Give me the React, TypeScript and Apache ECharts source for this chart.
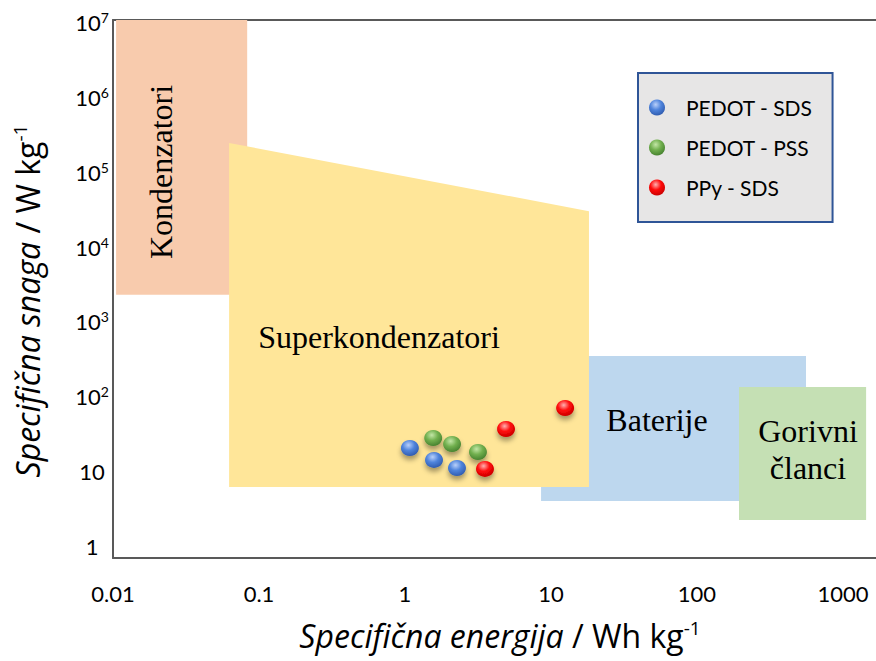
import React, { useEffect, useRef } from 'react';
import * as echarts from 'echarts';

// Axis ranges (real values, log10 scale)
const energyMin = 0.01;
const energyMax = 1683;
const powerMin = 0.713;
const powerMax = 1.064e7;

// Tick labels
const energyTicks = [0.01, 0.1, 1, 10, 100, 1000];
const energyTickLabels = ['0.01', '0.1', '1', '10', '100', '1000'];
const powerTicks = [1, 10, 1e2, 1e3, 1e4, 1e5, 1e6, 1e7];
const powerTickBase = ['1', '10', '10', '10', '10', '10', '10', '10'];
const powerTickExp = ['', '', '2', '3', '4', '5', '6', '7'];

// Series (energy Wh/kg, power W/kg)
const seriesNames = ['PEDOT - SDS', 'PEDOT - PSS', 'PPy - SDS'];
const pedotSdsEnergy = [1.08, 1.58, 2.27];
const pedotSdsPower = [20.9, 14.5, 11.3];
const pedotPssEnergy = [1.56, 2.1, 3.16];
const pedotPssPower = [28.4, 23.6, 18.5];
const ppySdsEnergy = [4.92, 3.53, 12.5];
const ppySdsPower = [37.4, 11.0, 71.3];

// Regions (vertices: [energy, power])
const regionNames = ['Kondenzatori', 'Baterije', 'Gorivni članci', 'Superkondenzatori'];
const kondenzatoriRegion = [[0.0105, 1.06e7], [0.083, 1.06e7], [0.083, 2300], [0.0105, 2300]];
const baterijeRegion = [[8.55, 352], [558, 352], [558, 4.1], [8.55, 4.1]];
const gorivniRegion = [[194, 136], [1440, 136], [1440, 2.29], [194, 2.29]];
const superRegion = [[0.0624, 2.44e5], [18.2, 3.0e4], [18.2, 6.3], [0.0624, 6.3]];

const lg = Math.log10;

function sphere(light: string, mid: string, dark: string) {
  return new echarts.graphic.RadialGradient(0.42, 0.32, 0.75, [
    { offset: 0, color: light },
    { offset: 0.45, color: mid },
    { offset: 1, color: dark },
  ]);
}

export default function App() {
  const ref = useRef<HTMLDivElement>(null);
  useEffect(() => {
    if (!ref.current) return;
    const chart = echarts.init(ref.current, null, { renderer: 'svg' });
    const regions = [kondenzatoriRegion, baterijeRegion, gorivniRegion, superRegion];
    const regionColors = ['#F8CBAD', '#BDD7EE', '#C5E0B4', '#FFE699'];
    const markerColors = [
      sphere('#b9d0fa', '#4f84dc', '#2a55a8'),
      sphere('#c3e6a6', '#72b04f', '#3f7a2a'),
      sphere('#ffb0b0', '#ff0a0a', '#c00000'),
    ];
    const energies = [pedotSdsEnergy, pedotPssEnergy, ppySdsEnergy];
    const powers = [pedotSdsPower, pedotPssPower, ppySdsPower];
    const font = 'Lato';
    const titleFont = 'Open Sans';

    const xLabel = (v: number) => {
      const i = energyTicks.findIndex((t) => Math.abs(lg(t) - v) < 1e-6);
      return i >= 0 ? energyTickLabels[i] : '';
    };
    const yLabel = (v: number) => {
      const i = powerTicks.findIndex((t) => Math.abs(lg(t) - v) < 1e-6);
      if (i < 0) return '';
      return powerTickExp[i] ? `{b|${powerTickBase[i]}}{s|${powerTickExp[i]}}` : `{b|${powerTickBase[i]}}`;
    };

    const tfs = 32;
    const titleRich = {
      i: { fontFamily: titleFont, fontStyle: 'italic', fontSize: tfs, color: '#000' },
      n: { fontFamily: titleFont, fontSize: tfs, color: '#000' },
      s: { fontFamily: titleFont, fontSize: 19, color: '#000', padding: [0, 0, 16, 0] },
    };

    chart.setOption({
      animation: false,
      grid: { left: 113, top: 20, right: 0, bottom: 103, containLabel: false },
      legend: {
        data: seriesNames,
        orient: 'vertical',
        left: 638,
        top: 73,
        padding: [24, 20, 24, 11],
        itemGap: 19,
        itemWidth: 18,
        itemHeight: 16,
        backgroundColor: '#E7E6E6',
        borderColor: '#2F5597',
        borderWidth: 2,
        textStyle: { fontFamily: font, fontSize: 21, color: '#000', lineHeight: 21, padding: [0, 0, 0, 15] },
      },
      xAxis: [
        {
          type: 'value',
          min: lg(energyMin),
          max: lg(energyMax),
          axisLine: { show: true, onZero: false, lineStyle: { color: '#595959', width: 2 } },
          axisTick: { show: false },
          splitLine: { show: false },
          axisLabel: {
            customValues: energyTicks.map(lg),
            formatter: xLabel,
            margin: 24,
            fontFamily: font,
            fontSize: 22,
            color: '#000',
          },
          name: '{i|Specifična energija} {n|/ Wh kg}{s|-1}',
          nameLocation: 'middle',
          nameGap: 60,
          nameTextStyle: { fontFamily: titleFont, fontSize: tfs, padding: [0, 0, 0, 11], rich: titleRich },
        },
        {
          type: 'value',
          position: 'top',
          min: lg(energyMin),
          max: lg(energyMax),
          axisLine: { show: true, onZero: false, lineStyle: { color: '#595959', width: 2 } },
          axisTick: { show: false },
          axisLabel: { show: false },
          splitLine: { show: false },
        },
      ],
      yAxis: {
        type: 'value',
        min: lg(powerMin),
        max: lg(powerMax),
        axisLine: { show: true, onZero: false, lineStyle: { color: '#595959', width: 2 } },
        axisTick: { show: false },
        splitLine: { show: false },
        axisLabel: {
          customValues: powerTicks.map(lg),
          formatter: yLabel,
          align: 'center',
          margin: 21,
          rich: {
            b: { fontFamily: font, fontSize: 22, color: '#000' },
            s: { fontFamily: font, fontSize: 14, color: '#000', padding: [0, 0, 10, 0] },
          },
        },
        name: '{i|Specifična snaga} {n|/ W kg}{s|-1}',
        nameLocation: 'middle',
        nameRotate: 90,
        nameGap: 68,
        nameTextStyle: { fontFamily: titleFont, fontSize: tfs, padding: [0, 24, 0, 0], rich: titleRich },
      },
      series: [
        {
          type: 'custom',
          silent: true,
          z: 1,
          clip: true,
          data: regions.map((r) => [lg(r[0][0]), lg(r[0][1])]),
          renderItem: (params: any, api: any) => {
            const r = regions[params.dataIndex];
            return {
              type: 'polygon',
              shape: { points: r.map((p) => api.coord([lg(p[0]), lg(p[1])])) },
              style: { fill: regionColors[params.dataIndex] },
            };
          },
        },
        ...seriesNames.map((name, k) => ({
          type: 'scatter',
          name,
          z: 3,
          symbol: 'circle',
          symbolSize: [18, 16],
          data: energies[k].map((e, i) => [lg(e), lg(powers[k][i])]),
          itemStyle: {
            color: markerColors[k],
            opacity: 1,
            shadowColor: 'rgba(0,0,0,0.35)',
            shadowBlur: 5,
            shadowOffsetY: 4,
          },
        })),
      ],
      graphic: [
        {
          type: 'text',
          x: 161,
          y: 172,
          rotation: Math.PI / 2,
          z: 10,
          style: {
            text: regionNames[0],
            font: '32px "Liberation Serif"',
            fill: '#000',
            align: 'center',
            verticalAlign: 'middle',
          },
        },
        {
          type: 'text',
          x: 379,
          y: 337,
          z: 10,
          style: { text: regionNames[3], font: '32px "Liberation Serif"', fill: '#000', align: 'center', verticalAlign: 'middle' },
        },
        {
          type: 'text',
          x: 657,
          y: 420,
          z: 10,
          style: { text: regionNames[1], font: '32px "Liberation Serif"', fill: '#000', align: 'center', verticalAlign: 'middle' },
        },
        {
          type: 'text',
          x: 808,
          y: 449,
          z: 10,
          style: {
            text: regionNames[2].replace(' ', '\n'),
            font: '32px "Liberation Serif"',
            lineHeight: 37,
            fill: '#000',
            align: 'center',
            verticalAlign: 'middle',
          },
        },
      ],
    });
    return () => chart.dispose();
  }, []);
  return <div ref={ref} style={{ position: 'absolute', left: 0, top: 0, width: 876, height: 661 }} />;
}
